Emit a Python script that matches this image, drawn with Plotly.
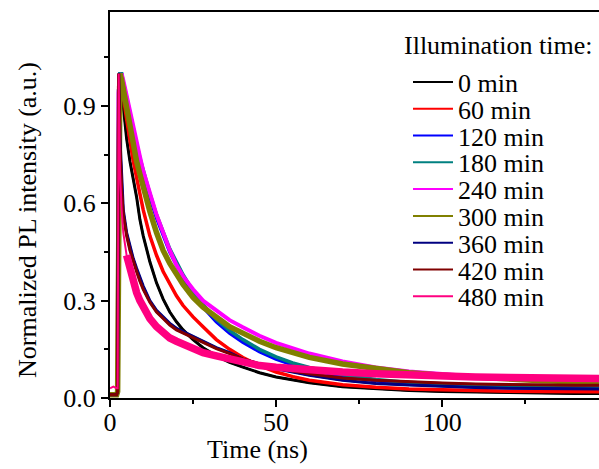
import plotly.graph_objects as go

# ---------------- data ----------------
time_ns = [0, 1, 2, 2.3, 2.6, 3.0, 3.5, 4, 5, 6, 7, 8, 9, 10, 12, 14, 16, 18, 20, 22,
           25, 28, 32, 36, 40, 45, 50, 55, 60, 70, 80, 90, 100, 110, 120, 130, 140, 148]

pl_0min = [0.01, 0.01, 0.01, 0.02, 0.98, 1.0, 0.95, 0.88, 0.80, 0.73, 0.675, 0.62, 0.55, 0.50,
           0.42, 0.355, 0.305, 0.265, 0.235, 0.21, 0.18, 0.155, 0.13, 0.11, 0.095, 0.078, 0.065,
           0.055, 0.047, 0.035, 0.028, 0.023, 0.02, 0.018, 0.016, 0.015, 0.014, 0.014]
pl_60min = [0.01, 0.01, 0.01, 0.02, 0.96, 1.0, 0.97, 0.93, 0.86, 0.79, 0.73, 0.68, 0.63, 0.58,
            0.50, 0.44, 0.39, 0.35, 0.315, 0.285, 0.25, 0.22, 0.18, 0.15, 0.125, 0.10, 0.08,
            0.066, 0.055, 0.041, 0.033, 0.028, 0.025, 0.023, 0.021, 0.02, 0.019, 0.019]
pl_120min = [0.01, 0.01, 0.01, 0.02, 0.95, 1.0, 1.0, 0.97, 0.92, 0.87, 0.825, 0.78, 0.735, 0.695,
             0.62, 0.555, 0.50, 0.45, 0.41, 0.37, 0.32, 0.28, 0.235, 0.20, 0.172, 0.143, 0.12,
             0.102, 0.088, 0.067, 0.053, 0.045, 0.04, 0.036, 0.033, 0.031, 0.03, 0.03]
pl_180min = [0.01, 0.01, 0.01, 0.02, 0.95, 1.0, 1.0, 0.975, 0.925, 0.875, 0.83, 0.785, 0.74, 0.70,
             0.63, 0.565, 0.51, 0.46, 0.42, 0.38, 0.33, 0.288, 0.243, 0.208, 0.18, 0.15, 0.127,
             0.108, 0.094, 0.072, 0.057, 0.048, 0.042, 0.038, 0.035, 0.032, 0.031, 0.031]
pl_240min = [0.01, 0.01, 0.01, 0.02, 0.94, 0.99, 1.0, 0.98, 0.93, 0.88, 0.84, 0.79, 0.745, 0.70,
             0.63, 0.565, 0.51, 0.455, 0.41, 0.375, 0.335, 0.30, 0.27, 0.24, 0.218, 0.192, 0.17,
             0.153, 0.137, 0.113, 0.094, 0.082, 0.073, 0.066, 0.06, 0.055, 0.052, 0.05]
pl_300min = [0.01, 0.01, 0.01, 0.02, 0.96, 1.0, 0.98, 0.95, 0.89, 0.83, 0.78, 0.73, 0.69, 0.65,
             0.575, 0.51, 0.455, 0.415, 0.38, 0.35, 0.31, 0.28, 0.25, 0.22, 0.20, 0.175, 0.155,
             0.14, 0.125, 0.105, 0.09, 0.078, 0.07, 0.063, 0.058, 0.053, 0.05, 0.048]
pl_360min = [0.01, 0.01, 0.01, 0.02, 1.0, 0.80, 0.66, 0.58, 0.51, 0.465, 0.43, 0.40, 0.37, 0.345,
             0.30, 0.27, 0.25, 0.23, 0.215, 0.205, 0.19, 0.175, 0.155, 0.14, 0.12, 0.105, 0.09,
             0.08, 0.07, 0.055, 0.045, 0.04, 0.035, 0.032, 0.03, 0.03, 0.028, 0.028]
pl_420min = [0.01, 0.01, 0.01, 0.02, 1.0, 0.78, 0.64, 0.565, 0.50, 0.455, 0.42, 0.39, 0.36, 0.335,
             0.295, 0.265, 0.245, 0.225, 0.21, 0.20, 0.185, 0.17, 0.152, 0.137, 0.12, 0.105, 0.093,
             0.083, 0.075, 0.062, 0.055, 0.05, 0.046, 0.043, 0.041, 0.04, 0.039, 0.039]
pl_480min = [0.03, 0.035, 0.03, 0.03, 1.0, 0.70, 0.58, 0.51, 0.44, 0.395, 0.355, 0.325, 0.30, 0.28,
             0.245, 0.22, 0.20, 0.185, 0.175, 0.165, 0.155, 0.14, 0.13, 0.12, 0.11, 0.10, 0.095,
             0.09, 0.085, 0.08, 0.075, 0.07, 0.068, 0.065, 0.063, 0.062, 0.06, 0.06]

series_names = ["0 min", "60 min", "120 min", "180 min", "240 min",
                "300 min", "360 min", "420 min", "480 min"]
series_values = [pl_0min, pl_60min, pl_120min, pl_180min, pl_240min,
                 pl_300min, pl_360min, pl_420min, pl_480min]
series_colors = ["#000000", "#FF0000", "#0000FF", "#008080", "#FF00FF",
                 "#808000", "#000080", "#800000", "#FF0080"]
# drawn width of the (noisy) data band, and the index where the band starts
band_widths = [3, 3.5, 3.5, 3.5, 4, 5.5, 3, 3, 7.5]
band_start = [0, 0, 0, 0, 0, 0, 0, 0, 8]

legend_title = "Illumination time:"
x_title = "Time (ns)"
y_title = "Normalized PL intensity (a.u.)"

FONT = "Liberation Serif"
W, H = 599, 469
ML, MR, MT, MB = 110, 0, 12, 71
PW, PH = W - ML - MR, H - MT - MB


def px_x(p):
    return (p - ML) / PW


def px_y(p):
    return (H - MB - p) / PH


fig = go.Figure()
legend_ids = ["legend"] + [f"legend{i}" for i in range(2, len(series_names) + 1)]
for i, (name, vals, col) in enumerate(zip(series_names, series_values, series_colors)):
    s = band_start[i]
    fig.add_trace(go.Scatter(x=time_ns[s:], y=vals[s:], mode="lines",
                             line=dict(color=col, width=band_widths[i]), showlegend=False,
                             hoverinfo="skip"))
    fig.add_trace(go.Scatter(x=time_ns, y=vals, mode="lines", name=name,
                             line=dict(color=col, width=2), legend=legend_ids[i]))

layout_legends = {}
for i, lid in enumerate(legend_ids):
    layout_legends[lid] = dict(
        x=px_x(408), xanchor="left",
        y=px_y(82 + i * 26.8), yanchor="middle",
        bgcolor="rgba(0,0,0,0)", borderwidth=0,
        font=dict(family=FONT, size=26, color="black"),
        itemwidth=40, tracegroupgap=0,
    )

fig.update_layout(
    width=W, height=H,
    margin=dict(l=ML, r=MR, t=MT, b=MB, autoexpand=False),
    plot_bgcolor="white", paper_bgcolor="white",
    font=dict(family=FONT, size=26, color="black"),
    showlegend=True,
    **layout_legends,
    xaxis=dict(range=[0, 147.2], showline=True, linecolor="black", linewidth=2, mirror=True,
               ticks="outside", ticklen=7, tickwidth=2, tickcolor="black",
               tick0=0, dtick=50, showgrid=False, zeroline=False, automargin=False,
               ticklabelstandoff=-7,
               tickfont=dict(family=FONT, size=26, color="black"),
               minor=dict(dtick=25, ticks="outside", ticklen=4, tickwidth=2, tickcolor="black", showgrid=False)),
    yaxis=dict(range=[0, 1.19], showline=True, linecolor="black", linewidth=2, mirror=False,
               ticks="outside", ticklen=7, tickwidth=2, tickcolor="black",
               tick0=0, dtick=0.3, tickformat=".1f", showgrid=False, zeroline=False, automargin=False,
               tickfont=dict(family=FONT, size=26, color="black"),
               minor=dict(dtick=0.15, ticks="outside", ticklen=4, tickwidth=2, tickcolor="black", showgrid=False)),
    annotations=[
        dict(text=x_title, xref="paper", yref="paper", x=px_x(257.5), y=px_y(449),
             xanchor="center", yanchor="middle", showarrow=False,
             font=dict(family=FONT, size=26, color="black")),
        dict(text=y_title, xref="paper", yref="paper", x=px_x(27), y=px_y(220),
             xanchor="center", yanchor="middle", showarrow=False, textangle=-90,
             font=dict(family=FONT, size=26, color="black")),
        dict(text=legend_title, xref="paper", yref="paper", x=px_x(402), y=px_y(46),
             xanchor="left", yanchor="middle", showarrow=False,
             font=dict(family=FONT, size=26, color="black")),
    ],
)

fig.write_html("out.html", config={"displayModeBar": False},
               post_script="document.body.style.margin='0';document.body.style.padding='0';"
                           "document.documentElement.style.overflow='hidden';")
